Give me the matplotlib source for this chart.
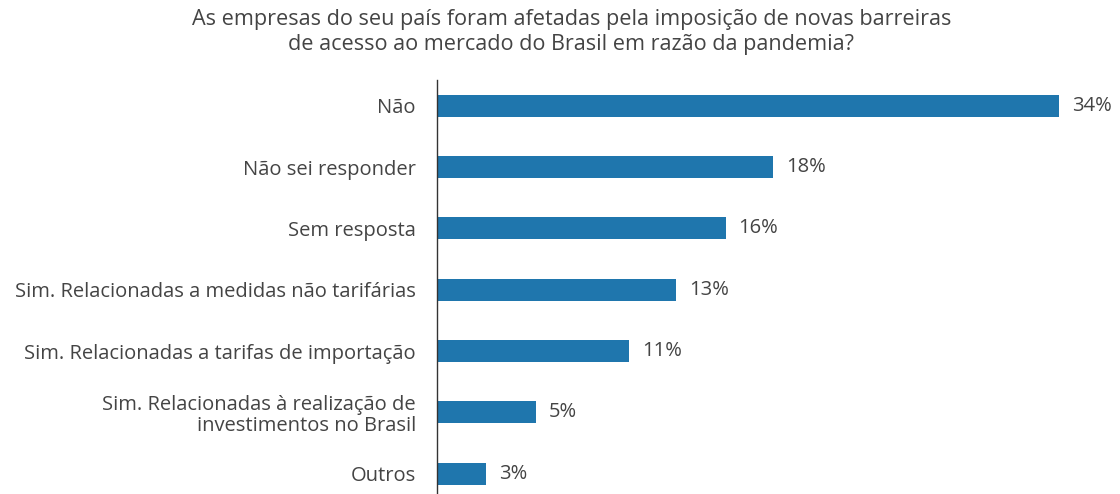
import matplotlib.pyplot as plt

# data
categories = [
    "Não",
    "Não sei responder",
    "Sem resposta",
    "Sim. Relacionadas a medidas não tarifárias",
    "Sim. Relacionadas a tarifas de importação",
    "Sim. Relacionadas à realização de\ninvestimentos no Brasil",
    "Outros",
]
values = [34.0, 18.4, 15.8, 13.1, 10.5, 5.4, 2.7]
value_labels = ["34%", "18%", "16%", "13%", "11%", "5%", "3%"]

title = ("As empresas do seu país foram afetadas pela imposição de novas barreiras\n"
         "de acesso ao mercado do Brasil em razão da pandemia?")

plt.rcParams["font.family"] = ["Open Sans", "DejaVu Sans"]
text_color = "#444444"
bar_color = "#1f76ad"

fig = plt.figure(figsize=(11.2, 4.94), dpi=100)
ax = fig.add_axes([0.390, 0.0, 0.588, 0.838])

positions = list(range(len(categories)))
ax.barh(positions, values, height=0.36, color=bar_color)

for pos, val, lab in zip(positions, values, value_labels):
    ax.text(val + 0.7, pos, lab, va="center", ha="left", fontsize=14.5, color=text_color)

ax.set_yticks(positions)
ax.set_yticklabels(categories, fontsize=14.5, color=text_color, linespacing=1.1)
ax.tick_params(axis="y", length=0, pad=15)
ax.set_xticks([])
ax.set_xlim(0, 36)
ax.set_ylim(6.33, -0.42)

for side in ["top", "right", "bottom"]:
    ax.spines[side].set_visible(False)
ax.spines["left"].set_color("#333333")
ax.spines["left"].set_linewidth(1.0)

fig.text(0.51, 0.982, title, ha="center", va="top", fontsize=15.6,
         color=text_color, linespacing=1.25)

fig.savefig("out.png", dpi=100)
